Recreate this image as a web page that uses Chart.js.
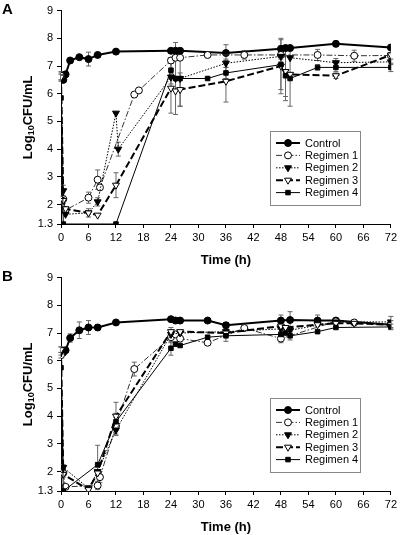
<!DOCTYPE html>
<html><head><meta charset="utf-8">
<script src="https://cdn.jsdelivr.net/npm/chart.js@4.4.0/dist/chart.umd.min.js"></script>
<style>
html,body{margin:0;padding:0;background:#fff}
#wrap{width:400px;height:535px;position:relative}
.panel{position:absolute;left:0;width:400px}
canvas{display:block}
</style></head><body>
<div id="wrap">
<div class="panel" style="top:0;height:267px"><canvas id="canvasA" width="400" height="267"></canvas></div>
<div class="panel" style="top:267px;height:268px"><canvas id="canvasB" width="400" height="268"></canvas></div>
</div>
<script>
const seriesNames = ['Control', 'Regimen 1', 'Regimen 2', 'Regimen 3', 'Regimen 4']
const yTicks = [1.3, 2, 3, 4, 5, 6, 7, 8, 9]

// panel A
const tA_control = [0, 0.5, 1, 2, 4, 6, 8, 12, 24, 25, 26, 36, 48, 49, 50, 60, 72]
const vA_control = [6.6, 6.5, 6.7, 7.2, 7.32, 7.25, 7.4, 7.52, 7.55, 7.55, 7.55, 7.47, 7.62, 7.65, 7.65, 7.8, 7.67]
const eA_control = [0.15, 0, 0.1, 0, 0, 0.25, 0, 0, 0, 0, 0, 0.3, 0.1, 0, 0, 0.1, 0]

const tA_reg1 = [0, 0.5, 1, 6, 8, 8.5, 16, 17, 24, 25, 26, 32, 40, 48, 56, 64, 72]
const vA_reg1 = [6.65, 2.2, 1.8, 2.25, 2.9, 2.62, 5.97, 6.12, 7.2, 7.3, 7.3, 7.4, 7.4, 7.4, 7.4, 7.37, 7.38]
const eA_reg1 = [0.15, 0.1, 0, 0.2, 0.35, 0, 0, 0, 0.1, 0.1, 0, 0.1, 0.15, 0.15, 0.2, 0.2, 0]

const tA_reg2 = [0, 0.5, 1, 6, 8, 12, 12.5, 24, 25, 26, 36, 48, 50, 60, 72]
const vA_reg2 = [6.6, 2.5, 1.65, 1.7, 2.1, 5.3, 4.0, 6.6, 6.55, 6.55, 7.1, 7.35, 7.3, 7.12, 7.15]
const eA_reg2 = [0.1, 0.2, 0, 0.15, 0.15, 0, 0.25, 0.25, 0, 0, 0.15, 0.2, 0, 0.15, 0.1]

const tA_reg3 = [0, 0.5, 1, 6, 8, 12, 24, 25, 26, 36, 48, 49, 50, 60, 72]
const vA_reg3 = [6.6, 2.15, 1.85, 1.7, 1.62, 2.7, 6.2, 6.1, 6.15, 6.45, 7.0, 6.8, 6.7, 6.65, 7.4]
const eA_reg3 = [0, 0.1, 0, 0, 0, 0.45, 0.9, 0, 0.6, 0.75, 1.0, 0.9, 0, 0.1, 0]

const tA_reg4 = [0, 0.5, 12, 24, 25, 26, 32, 36, 48, 49, 50, 56, 60, 72]
const vA_reg4 = [5.85, 1.3, 1.3, 6.85, 6.55, 6.55, 6.55, 6.75, 7.05, 6.65, 6.55, 6.95, 6.95, 6.95]
const eA_reg4 = [0, 0, 0, 0.3, 1.3, 1.0, 0, 0.2, 0.9, 0.9, 1.0, 0.1, 0.15, 0.15]

// panel B
const tB_control = [0, 0.5, 1, 2, 4, 6, 8, 12, 24, 25, 26, 32, 36, 48, 50, 56, 60, 72]
const vB_control = [6.35, 6.3, 6.38, 6.82, 7.1, 7.2, 7.2, 7.38, 7.5, 7.45, 7.45, 7.45, 7.28, 7.45, 7.47, 7.45, 7.45, 7.3]
const eB_control = [0.15, 0, 0, 0.15, 0.3, 0.25, 0.1, 0, 0, 0, 0, 0, 0.1, 0.2, 0.3, 0.2, 0, 0.15]

const tB_reg1 = [0, 0.5, 1, 8, 8.5, 12, 16, 24, 25, 26, 32, 40, 48, 60, 64, 72]
const vB_reg1 = [6.2, 1.95, 1.45, 1.5, 1.8, 3.65, 5.7, 6.85, 6.95, 6.8, 6.65, 7.18, 6.8, 7.42, 7.38, 7.3]
const eB_reg1 = [0.1, 0.15, 0, 0.15, 0.2, 0.3, 0.25, 0.2, 0.1, 0, 0.1, 0, 0.15, 0.1, 0.1, 0]

const tB_reg2 = [0, 0.5, 6, 8, 12, 24, 26, 36, 48, 50, 60, 72]
const vB_reg2 = [6.3, 2.15, 1.4, 2.0, 3.5, 6.95, 7.0, 7.05, 7.15, 7.1, 7.4, 7.4]
const eB_reg2 = [0, 0.1, 0, 0.15, 0.2, 0.15, 0, 0.1, 0, 0.1, 0, 0.2]

const tB_reg3 = [0, 0.5, 6, 8, 12, 24, 26, 36, 48, 49, 56, 60, 64, 72]
const vB_reg3 = [6.4, 1.9, 1.35, 1.95, 4.0, 7.05, 7.05, 7.0, 7.25, 7.2, 7.3, 7.35, 7.35, 7.3]
const eB_reg3 = [0.1, 0, 0.15, 0, 0.5, 0.15, 0, 0, 0.2, 0, 0, 0, 0, 0]

const tB_reg4 = [0, 0.5, 8, 12, 24, 25, 26, 32, 36, 48, 49, 50, 56, 60, 72]
const vB_reg4 = [5.75, 1.3, 2.25, 3.8, 6.45, 6.6, 6.55, 6.85, 6.9, 6.95, 7.0, 6.9, 7.05, 7.2, 7.22]
const eB_reg4 = [0, 0, 0.7, 0.3, 0.25, 0, 0, 0, 0.2, 0.2, 0, 0.15, 0, 0, 0.1]

const styles = [
    { pointStyle: 'circle', fill: '#000', line: '#000', radius: 3.5, rotation: 0, width: 2, dash: [] },
    { pointStyle: 'circle', fill: '#fff', line: '#333', radius: 3.5, rotation: 0, width: 1, dash: [6, 2, 1.5, 2] },
    { pointStyle: 'triangle', fill: '#000', line: '#000', radius: 4, rotation: 180, width: 1, dash: [1.5, 1.5] },
    { pointStyle: 'triangle', fill: '#fff', line: '#000', radius: 4, rotation: 180, width: 2, dash: [7, 3] },
    { pointStyle: 'rect', fill: '#000', line: '#000', radius: 3.2, rotation: 0, width: 1, dash: [] },
]

const FONT = 'Liberation Sans, Arial, sans-serif'

const makeDataset = (i, t, v, e) => {
    let s = styles[i]
    return {
        label: seriesNames[i],
        data: t.map((x, k) => ({ x: x, y: v[k] })),
        errs: e,
        showLine: true,
        borderColor: s.line,
        borderWidth: s.width,
        borderDash: s.dash,
        pointStyle: s.pointStyle,
        pointRotation: s.rotation,
        pointRadius: s.radius,
        pointBackgroundColor: s.fill,
        pointBorderColor: '#000',
        pointBorderWidth: 1,
        tension: 0,
    }
}

const errorBars = {
    id: 'errorBars',
    beforeDatasetsDraw(chart) {
        let ctx = chart.ctx
        let xs = chart.scales.x, ys = chart.scales.y
        ctx.save()
        ctx.strokeStyle = '#666'
        ctx.lineWidth = 1
        chart.data.datasets.forEach(ds => {
            ds.data.forEach((p, k) => {
                let e = ds.errs[k]
                if (!e) return
                let x = xs.getPixelForValue(p.x)
                let y1 = ys.getPixelForValue(Math.max(p.y - e, 1.3))
                let y2 = ys.getPixelForValue(p.y + e)
                ctx.beginPath()
                ctx.moveTo(x, y1); ctx.lineTo(x, y2)
                ctx.moveTo(x - 2.5, y1); ctx.lineTo(x + 2.5, y1)
                ctx.moveTo(x - 2.5, y2); ctx.lineTo(x + 2.5, y2)
                ctx.stroke()
            })
        })
        ctx.restore()
    }
}

const decorations = {
    id: 'decorations',
    afterDraw(chart, args, opts) {
        let ctx = chart.ctx
        let area = chart.chartArea
        ctx.save()
        ctx.fillStyle = '#000'
        // panel letter
        ctx.font = 'bold 15px ' + FONT
        ctx.textBaseline = 'top'
        ctx.textAlign = 'left'
        ctx.fillText(opts.letter, 2, 2)

        // x title
        ctx.font = 'bold 13px ' + FONT
        ctx.textAlign = 'center'
        ctx.textBaseline = 'middle'
        ctx.fillText('Time (h)', (area.left + area.right) / 2, area.bottom + 36)

        // y title with subscript
        let big = 'bold 13px ' + FONT, small = 'bold 9px ' + FONT
        ctx.font = big
        let w1 = ctx.measureText('Log').width, w3 = ctx.measureText('CFU/mL').width
        ctx.font = small
        let w2 = ctx.measureText('10').width
        let total = w1 + w2 + w3
        ctx.translate(28, (area.top + area.bottom) / 2)
        ctx.rotate(-Math.PI / 2)
        ctx.textAlign = 'left'
        ctx.textBaseline = 'middle'
        ctx.font = big
        ctx.fillText('Log', -total / 2, 0)
        ctx.font = small
        ctx.fillText('10', -total / 2 + w1, 4)
        ctx.font = big
        ctx.fillText('CFU/mL', -total / 2 + w1 + w2, 0)
        ctx.restore()

        // legend box
        ctx.save()
        let bx = 270, by = 131, bw = 90, bh = 74
        ctx.fillStyle = '#fff'
        ctx.fillRect(bx, by, bw, bh)
        ctx.strokeStyle = '#888'
        ctx.lineWidth = 1
        ctx.strokeRect(bx + 0.5, by + 0.5, bw, bh)
        ctx.font = '11px ' + FONT
        ctx.textAlign = 'left'
        ctx.textBaseline = 'middle'
        seriesNames.forEach((name, i) => {
            let s = styles[i]
            let y = by + 12 + i * 12.4
            ctx.strokeStyle = s.line
            ctx.lineWidth = s.width
            ctx.setLineDash(s.dash)
            ctx.beginPath()
            ctx.moveTo(bx + 6, y); ctx.lineTo(bx + 30, y)
            ctx.stroke()
            ctx.setLineDash([])
            ctx.fillStyle = s.fill
            ctx.strokeStyle = '#000'
            ctx.lineWidth = 1
            Chart.helpers.drawPoint(ctx, { pointStyle: s.pointStyle, radius: s.radius, rotation: s.rotation, borderWidth: 1 }, bx + 18, y)
            ctx.fillStyle = '#000'
            ctx.fillText(name, bx + 35, y + 0.5)
        })
        ctx.restore()
    }
}

const buildChart = (canvas_id, letter, datasets, padTop, xHeight) => {
    new Chart(document.getElementById(canvas_id), {
        type: 'scatter',
        data: { datasets: datasets },
        plugins: [errorBars, decorations],
        options: {
            responsive: false,
            animation: false,
            layout: { autoPadding: false, padding: { top: padTop, right: 6, left: 0, bottom: 0 } },
            plugins: {
                legend: { display: false },
                tooltip: { enabled: false },
                decorations: { letter: letter },
            },
            scales: {
                x: {
                    type: 'linear',
                    min: 0, max: 72,
                    afterFit: s => { s.height = xHeight },
                    border: { color: '#000', width: 1 },
                    grid: { drawOnChartArea: false, tickLength: 4, color: '#000' },
                    ticks: { stepSize: 6, color: '#000', font: { size: 11, family: FONT }, padding: 3, maxRotation: 0 },
                },
                y: {
                    type: 'linear',
                    min: 1.3, max: 9,
                    afterFit: s => { s.width = 61 },
                    afterBuildTicks: s => { s.ticks = yTicks.map(v => ({ value: v })) },
                    border: { color: '#000', width: 1 },
                    grid: { drawOnChartArea: false, tickLength: 4, color: '#000' },
                    ticks: {
                        color: '#000', font: { size: 11, family: FONT }, padding: 4,
                        callback: v => v === 1.3 ? '1.3' : String(v),
                    },
                },
            },
        },
    })
}

buildChart('canvasA', 'A', [
    makeDataset(4, tA_reg4, vA_reg4, eA_reg4),
    makeDataset(3, tA_reg3, vA_reg3, eA_reg3),
    makeDataset(2, tA_reg2, vA_reg2, eA_reg2),
    makeDataset(1, tA_reg1, vA_reg1, eA_reg1),
    makeDataset(0, tA_control, vA_control, eA_control),
], 9, 43)

buildChart('canvasB', 'B', [
    makeDataset(4, tB_reg4, vB_reg4, eB_reg4),
    makeDataset(3, tB_reg3, vB_reg3, eB_reg3),
    makeDataset(2, tB_reg2, vB_reg2, eB_reg2),
    makeDataset(1, tB_reg1, vB_reg1, eB_reg1),
    makeDataset(0, tB_control, vB_control, eB_control),
], 10, 44)
</script>
</body></html>
